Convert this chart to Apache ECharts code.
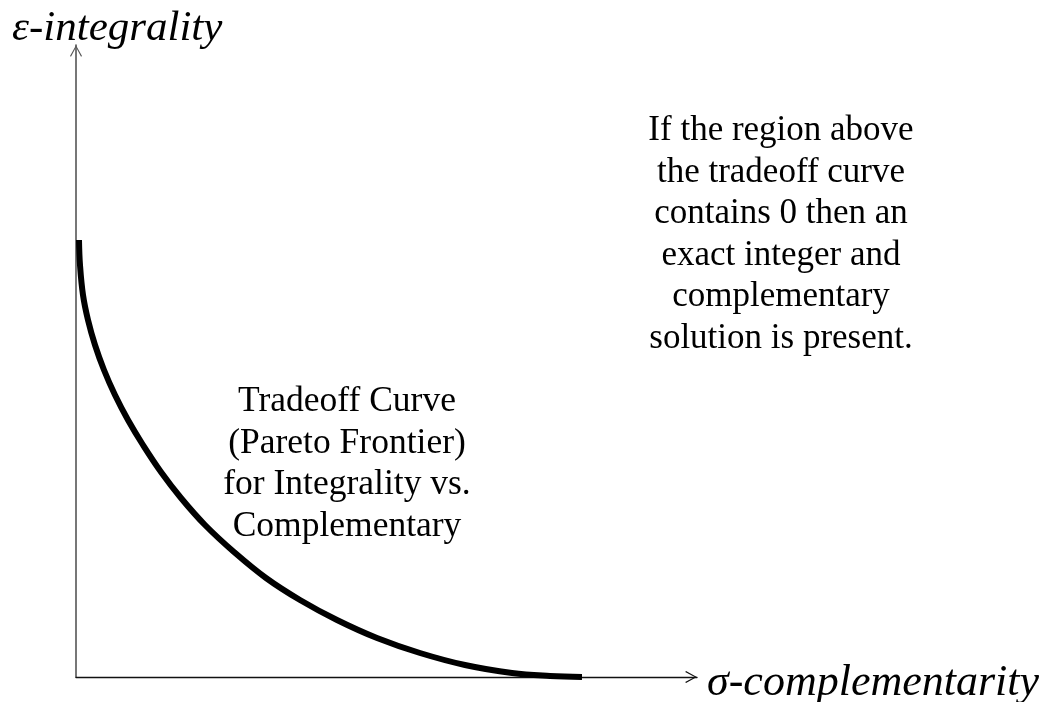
<!DOCTYPE html>
<html>
<head>
<meta charset="utf-8">
<script src="https://cdn.jsdelivr.net/npm/echarts@6/dist/echarts.min.js"></script>
<style>
  html, body { margin: 0; padding: 0; background: #fff; }
  #chart { width: 1047px; height: 702px; }
</style>
</head>
<body>
<div id="chart"></div>
<script>
// 曲线上的点 (sigma 横轴, epsilon 纵轴)，单位随意
var sigma = [0.03, 0.04, 0.07, 0.12, 0.19, 0.28, 0.39, 0.52, 0.67, 0.85, 1.05, 1.29, 1.58, 1.90, 2.24, 2.61, 3.01, 3.44, 3.89, 4.36, 4.74, 5.06];
var eps = [4.37, 4.12, 3.82, 3.57, 3.32, 3.07, 2.82, 2.57, 2.32, 2.05, 1.79, 1.52, 1.25, 0.99, 0.77, 0.57, 0.39, 0.24, 0.12, 0.04, 0.01, 0.0];

var xName = "σ-complementarity";
var yName = "ε-integrality";
var curveText = "Tradeoff Curve\n(Pareto Frontier)\nfor Integrality vs.\nComplementary";
var noteText = "If the region above\nthe tradeoff curve\ncontains 0 then an\nexact integer and\ncomplementary\nsolution is present.";

// 开口箭头
var arrowPath = "path://M5,0 L10,9 L9.2,9.7 L5,1.8 L0.8,9.7 L0,9 Z";
var serif = "'Liberation Serif', 'Times New Roman', serif";

var points = sigma.map(function (s, i) { return [s, eps[i]]; });

var myChart = echarts.init(document.getElementById("chart"));
myChart.setOption({
  animation: false,
  backgroundColor: "#fff",
  grid: { left: 76, right: 350, top: 45, bottom: 25 },
  xAxis: {
    type: "value",
    min: 0,
    max: 6.21,
    axisLine: {
      onZero: false,
      symbol: ["none", arrowPath],
      symbolSize: [12, 12],
      symbolOffset: [0, -6],
      lineStyle: { color: "#111", width: 1.4 }
    },
    axisTick: { show: false },
    axisLabel: { show: false },
    splitLine: { show: false }
  },
  yAxis: {
    type: "value",
    min: 0,
    max: 6.32,
    axisLine: {
      show: true,
      onZero: false,
      symbol: ["none", arrowPath],
      symbolSize: [12, 12],
      symbolOffset: [0, -6],
      lineStyle: { color: "#555", width: 1.6 }
    },
    axisTick: { show: false },
    axisLabel: { show: false },
    splitLine: { show: false }
  },
  graphic: [
    {
      type: "text", left: 12, top: 7,
      style: { text: yName, font: "italic 43px " + serif, fill: "#000" }
    },
    {
      type: "text", left: 707, top: 661,
      style: { text: xName, font: "italic 44px " + serif, fill: "#000" }
    },
    {
      type: "text", x: 347, y: 464,
      style: {
        text: curveText, font: "35.5px " + serif, fill: "#000",
        align: "center", verticalAlign: "middle", lineHeight: 41.5
      }
    },
    {
      type: "text", x: 781, y: 235,
      style: {
        text: noteText, font: "35px " + serif, fill: "#000",
        align: "center", verticalAlign: "middle", lineHeight: 41.5
      }
    }
  ],
  series: [
    {
      type: "line",
      data: points,
      smooth: 0.4,
      showSymbol: false,
      lineStyle: { color: "#000", width: 6, cap: "butt" }
    }
  ]
});
</script>
</body>
</html>
